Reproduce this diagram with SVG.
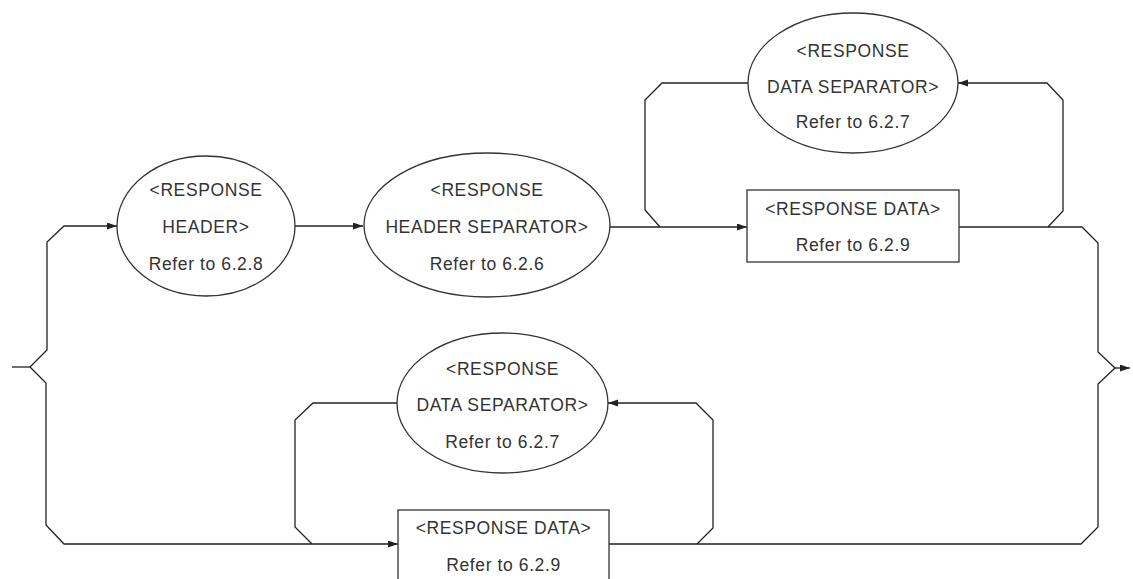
<svg xmlns="http://www.w3.org/2000/svg" width="1133" height="579" viewBox="0 0 1133 579">
<defs>
<marker id="arr" markerUnits="userSpaceOnUse" markerWidth="11" markerHeight="8" refX="10" refY="3.5" orient="auto">
<path d="M0,0 L10,3.5 L0,7 z" fill="#222"/>
</marker>
<style>
.shape{fill:#fff;stroke:#333;stroke-width:1.3}
.c{fill:none;stroke:#222;stroke-width:1.3}
.t{font-family:"Liberation Sans",Arial,sans-serif;font-size:17.5px;letter-spacing:0.6px;fill:#333;text-anchor:middle;dominant-baseline:central}
</style>
</defs>
<rect width="1133" height="579" fill="#fff"/>
<g id="connectors">
<path class="c" d="M12,367 H30"/>
<path class="c" d="M30,367 L47,350 V242 L64,226 H117" marker-end="url(#arr)"/>
<path class="c" d="M30,367 L46,383 V525 L64,544 H398" marker-end="url(#arr)"/>
<path class="c" d="M295,226 H363" marker-end="url(#arr)"/>
<path class="c" d="M610,227 H747" marker-end="url(#arr)"/>
<path class="c" d="M959,227 H1082 L1098,243 V352 L1115,368"/>
<path class="c" d="M609,544 H1081 L1098,527 V384 L1115,368"/>
<path class="c" d="M1115,368 H1130" marker-end="url(#arr)"/>
<path class="c" d="M660,227 L645,210 V100 L662,83 H748"/>
<path class="c" d="M1048,227 L1063,211 V100 L1047,83 H958" marker-end="url(#arr)"/>
<path class="c" d="M312,544 L295,527 V420 L313,403 H397"/>
<path class="c" d="M697,544 L713,528 V420 L696,403 H608" marker-end="url(#arr)"/>
</g>
<g id="response-header">
<ellipse class="shape" cx="206" cy="226" rx="89" ry="70"/>
<text class="t" x="206" y="190">&lt;RESPONSE</text>
<text class="t" x="206" y="227">HEADER&gt;</text>
<text class="t" x="206" y="264">Refer to 6.2.8</text>
</g>
<g id="response-header-separator">
<ellipse class="shape" cx="487" cy="225" rx="123" ry="72"/>
<text class="t" x="487" y="190">&lt;RESPONSE</text>
<text class="t" x="487" y="227">HEADER SEPARATOR&gt;</text>
<text class="t" x="487" y="264">Refer to 6.2.6</text>
</g>
<g id="response-data-separator-top">
<ellipse class="shape" cx="853" cy="83" rx="105" ry="70"/>
<text class="t" x="853" y="51">&lt;RESPONSE</text>
<text class="t" x="853" y="87">DATA SEPARATOR&gt;</text>
<text class="t" x="853" y="122">Refer to 6.2.7</text>
</g>
<g id="response-data-top">
<rect class="shape" x="747" y="190" width="212" height="72"/>
<text class="t" x="853" y="209">&lt;RESPONSE DATA&gt;</text>
<text class="t" x="853" y="245">Refer to 6.2.9</text>
</g>
<g id="response-data-separator-bottom">
<ellipse class="shape" cx="502.5" cy="403" rx="105.5" ry="70"/>
<text class="t" x="502.5" y="369">&lt;RESPONSE</text>
<text class="t" x="502.5" y="405">DATA SEPARATOR&gt;</text>
<text class="t" x="502.5" y="442">Refer to 6.2.7</text>
</g>
<g id="response-data-bottom">
<rect class="shape" x="398" y="510" width="211" height="70"/>
<text class="t" x="503.5" y="528">&lt;RESPONSE DATA&gt;</text>
<text class="t" x="503.5" y="565">Refer to 6.2.9</text>
</g>
</svg>
